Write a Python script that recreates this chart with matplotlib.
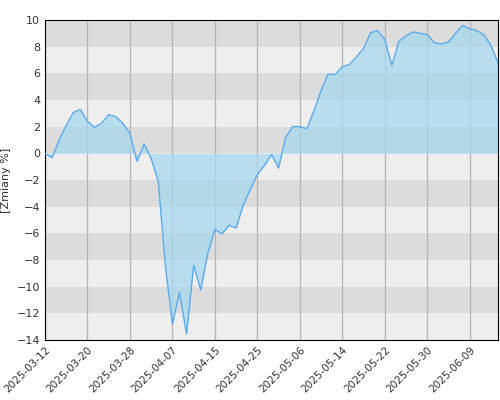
import matplotlib
matplotlib.use("Agg")
import matplotlib.pyplot as plt
import numpy as np

values = [0, -0.33, 1.0, 2.1, 3.05, 3.3, 2.4, 1.95, 2.25, 2.9, 2.75, 2.25, 1.5, -0.6, 0.7, -0.4,
          -2.1, -8.4, -12.8, -10.45, -13.55, -8.4, -10.25, -7.5, -5.7, -6.05, -5.4, -5.6, -3.9, -2.7,
          -1.6, -0.9, -0.1, -1.1, 1.2, 2.0, 2.0, 1.85, 3.2, 4.7, 5.95, 5.9, 6.5, 6.65, 7.25, 7.85,
          9.05, 9.2, 8.55, 6.6, 8.4, 8.8, 9.1, 9.0, 8.9, 8.3, 8.2, 8.35, 9.0, 9.6, 9.35, 9.2, 8.9,
          8.1, 6.8]
tick_labels = ["2025-03-12", "2025-03-20", "2025-03-28", "2025-04-07", "2025-04-15", "2025-04-25",
               "2025-05-06", "2025-05-14", "2025-05-22", "2025-05-30", "2025-06-09"]
tick_step = 6

fig = plt.figure(figsize=(5, 4), dpi=100)
ax = fig.add_axes([0.09, 0.15, 0.906, 0.80])
x = np.arange(len(values))
ax.set_xlim(0, len(values) - 1)
ax.set_ylim(-14, 10)
for k, lo in enumerate(range(-14, 10, 2)):
    ax.axhspan(lo, lo + 2, color="#dcdcdc" if k % 2 == 1 else "#eeeeee", zorder=0, lw=0)
ticks = np.arange(len(tick_labels)) * tick_step
for t in ticks:
    ax.axvline(t, color="#b4b4b4", lw=0.9, zorder=1)
ax.fill_between(x, values, 0, color="#a6d8ee", alpha=0.75, zorder=2, lw=0)
ax.plot(x, values, color="#5aaaee", lw=1.0, zorder=3)
ax.set_xticks(ticks)
ax.set_xticklabels(tick_labels, rotation=45, ha="right", rotation_mode="anchor", fontsize=7.5, color="#333333")
ax.set_yticks(range(-14, 11, 2))
ax.tick_params(axis="y", labelsize=8, colors="#333333", length=0)
ax.tick_params(axis="x", length=0)
ax.set_ylabel("[Zmiany %]", fontsize=8, color="#333333")
for s in ax.spines.values():
    s.set_color("black")
fig.savefig("out.png", dpi=100)
